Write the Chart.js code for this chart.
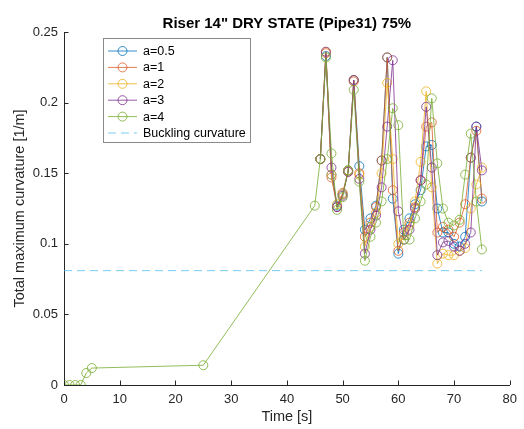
<!DOCTYPE html>
<html>
<head>
<meta charset="utf-8">
<script src="https://cdn.jsdelivr.net/npm/chart.js@4/dist/chart.umd.min.js"></script>
<style>
  html, body { margin: 0; padding: 0; background: #ffffff; }
  #wrap { width: 524px; height: 429px; }
</style>
</head>
<body>
<div id="wrap"><canvas id="c" width="524" height="429"></canvas></div>
<script>
// Start-up phase (recorded for a=4)
const timeEarly = [0, 1, 2, 3, 4, 5, 25, 45];
const curvEarly = [0, 0, 0, 0, 0.0085, 0.012, 0.014, 0.127];

// Main phase, sampled every second
const timeMain = [46, 47, 48, 49, 50, 51, 52, 53, 54, 55, 56, 57, 58, 59, 60,
                  61, 62, 63, 64, 65, 66, 67, 68, 69, 70, 71, 72, 73, 74, 75];

const curvA05 = [0.160, 0.233, 0.149, 0.127, 0.135, 0.152, 0.216, 0.155, 0.110, 0.118, 0.127, 0.159, 0.232, 0.132, 0.093,
                 0.110, 0.118, 0.128, 0.138, 0.169, 0.170, 0.125, 0.108, 0.108, 0.100, 0.098, 0.105, 0.161, 0.183, 0.130];
const curvA1  = [0.160, 0.235, 0.147, 0.126, 0.136, 0.151, 0.215, 0.150, 0.105, 0.115, 0.126, 0.159, 0.232, 0.138, 0.095,
                 0.108, 0.115, 0.126, 0.145, 0.183, 0.186, 0.108, 0.112, 0.110, 0.105, 0.115, 0.128, 0.161, 0.180, 0.132];
const curvA2  = [0.160, 0.236, 0.149, 0.128, 0.135, 0.152, 0.216, 0.149, 0.098, 0.112, 0.122, 0.150, 0.214, 0.160, 0.100,
                 0.106, 0.113, 0.130, 0.158, 0.208, 0.140, 0.086, 0.093, 0.092, 0.092, 0.095, 0.097, 0.125, 0.142, 0.154];
const curvA3  = [0.160, 0.236, 0.154, 0.126, 0.134, 0.151, 0.216, 0.146, 0.093, 0.110, 0.120, 0.140, 0.183, 0.230, 0.123,
                 0.103, 0.110, 0.125, 0.145, 0.197, 0.154, 0.092, 0.101, 0.102, 0.098, 0.095, 0.100, 0.108, 0.183, 0.152];
const curvA4  = [0.160, 0.232, 0.164, 0.124, 0.133, 0.152, 0.209, 0.144, 0.088, 0.105, 0.115, 0.130, 0.160, 0.196, 0.184,
                 0.103, 0.103, 0.118, 0.130, 0.142, 0.203, 0.157, 0.125, 0.115, 0.113, 0.117, 0.149, 0.178, 0.130, 0.096];

const seriesLabels = ['a=0.5', 'a=1', 'a=2', 'a=3', 'a=4'];
const seriesValues = [curvA05, curvA1, curvA2, curvA3, curvA4];
const seriesColors = ['rgba(0,114,189,0.8)', 'rgba(217,83,25,0.75)', 'rgba(237,177,32,0.8)',
                      'rgba(126,47,142,0.8)', 'rgba(119,172,48,0.8)'];

const bucklingLabel = 'Buckling curvature';
const bucklingCurvature = 0.081;
const bucklingSpan = [0, 75];

const xTickLabels = ['0', '10', '20', '30', '40', '50', '60', '70', '80'];
const yTickLabels = ['0', '0.05', '0.1', '0.15', '0.2', '0.25'];

const titleText = 'Riser 14" DRY STATE (Pipe31) 75%';
const xTitle = 'Time [s]';
const yTitle = 'Total maximum curvature [1/m]';

const FONT = '"Liberation Sans", Arial, Helvetica, sans-serif';
const AXIS_COLOR = '#262626';

function toPoints(xs, ys) {
  return xs.map((x, i) => ({ x: x, y: ys[i] }));
}

const datasets = seriesValues.map((vals, i) => {
  const last = i === seriesValues.length - 1;
  const xs = last ? timeEarly.concat(timeMain) : timeMain;
  const ys = last ? curvEarly.concat(vals) : vals;
  return {
    label: seriesLabels[i],
    data: toPoints(xs, ys),
    borderColor: seriesColors[i],
    borderWidth: 1,
    pointRadius: 4.5,
    pointBorderWidth: 1,
    pointBorderColor: seriesColors[i],
    pointBackgroundColor: 'rgba(0,0,0,0)',
    pointStyle: 'circle',
    tension: 0,
    fill: false,
    order: seriesValues.length - i
  };
});

datasets.push({
  label: bucklingLabel,
  data: toPoints(bucklingSpan, bucklingSpan.map(() => bucklingCurvature)),
  borderColor: 'rgba(77,190,238,0.75)',
  borderWidth: 1,
  borderDash: [8, 5],
  pointRadius: 0,
  fill: false,
  order: -1
});

// Inward tick marks, the title and the boxed legend
const decor = {
  id: 'decor',
  afterDraw(chart) {
    const ctx = chart.ctx;
    const xs = chart.scales.x, ys = chart.scales.y;
    const area = chart.chartArea;
    ctx.save();
    ctx.strokeStyle = AXIS_COLOR;
    ctx.lineWidth = 1;
    const tl = 4.5;
    xs.ticks.forEach(t => {
      const px = Math.round(xs.getPixelForValue(t.value)) + 0.5;
      ctx.beginPath();
      ctx.moveTo(px, area.bottom);
      ctx.lineTo(px, area.bottom - tl);
      ctx.stroke();
    });
    ys.ticks.forEach(t => {
      const py = Math.round(ys.getPixelForValue(t.value)) + 0.5;
      ctx.beginPath();
      ctx.moveTo(area.left, py);
      ctx.lineTo(area.left + tl, py);
      ctx.stroke();
    });

    // title
    ctx.fillStyle = '#000000';
    ctx.font = 'bold 15px ' + FONT;
    ctx.textAlign = 'center';
    ctx.textBaseline = 'alphabetic';
    ctx.fillText(titleText, (area.left + area.right) / 2, 28);

    // legend
    const bx = 103.5, by = 38.5, bw = 147, bh = 104;
    ctx.fillStyle = '#ffffff';
    ctx.fillRect(bx, by, bw, bh);
    ctx.strokeStyle = '#8a8a8a';
    ctx.lineWidth = 1;
    ctx.strokeRect(bx, by, bw, bh);
    ctx.font = '12.5px ' + FONT;
    ctx.textAlign = 'left';
    ctx.textBaseline = 'middle';
    chart.data.datasets.forEach((ds, i) => {
      const y = 51 + i * 16.4;
      ctx.save();
      ctx.strokeStyle = ds.borderColor;
      ctx.lineWidth = 1;
      if (ds.borderDash) ctx.setLineDash(ds.borderDash);
      ctx.beginPath();
      ctx.moveTo(108, y);
      ctx.lineTo(137, y);
      ctx.stroke();
      ctx.setLineDash([]);
      if (ds.pointRadius > 0) {
        ctx.beginPath();
        ctx.arc(122.5, y, ds.pointRadius, 0, Math.PI * 2);
        ctx.stroke();
      }
      ctx.restore();
      ctx.fillStyle = '#000000';
      ctx.fillText(ds.label, 143, y + 0.5);
    });
    ctx.restore();
  }
};

new Chart(document.getElementById('c'), {
  type: 'line',
  data: { datasets: datasets },
  options: {
    responsive: false,
    animation: false,
    devicePixelRatio: 1,
    layout: { padding: { left: 0, right: 11, top: 32, bottom: 0 } },
    plugins: {
      legend: { display: false },
      tooltip: { enabled: false },
      title: { display: false }
    },
    scales: {
      x: {
        type: 'linear',
        min: 0, max: 80,
        ticks: {
          stepSize: 10,
          padding: 7,
          color: AXIS_COLOR,
          font: { family: FONT, size: 13 },
          maxRotation: 0,
          callback: (v, i) => xTickLabels[i]
        },
        grid: { display: false, drawTicks: false },
        border: { display: true, color: AXIS_COLOR, width: 1 },
        title: {
          display: true, text: xTitle, color: AXIS_COLOR,
          font: { family: FONT, size: 14.5 },
          padding: { top: 0, bottom: 3 }
        },
        afterFit: s => { s.height = 44; }
      },
      y: {
        min: 0, max: 0.25,
        ticks: {
          stepSize: 0.05,
          padding: 6,
          color: AXIS_COLOR,
          font: { family: FONT, size: 13 },
          callback: (v, i) => yTickLabels[i]
        },
        grid: { display: false, drawTicks: false },
        border: { display: true, color: AXIS_COLOR, width: 1 },
        title: {
          display: true, text: yTitle, color: AXIS_COLOR,
          font: { family: FONT, size: 14.5 },
          padding: { top: 11, bottom: 0 }
        },
        afterFit: s => { s.width = 64; }
      }
    }
  },
  plugins: [decor]
});
</script>
</body>
</html>
